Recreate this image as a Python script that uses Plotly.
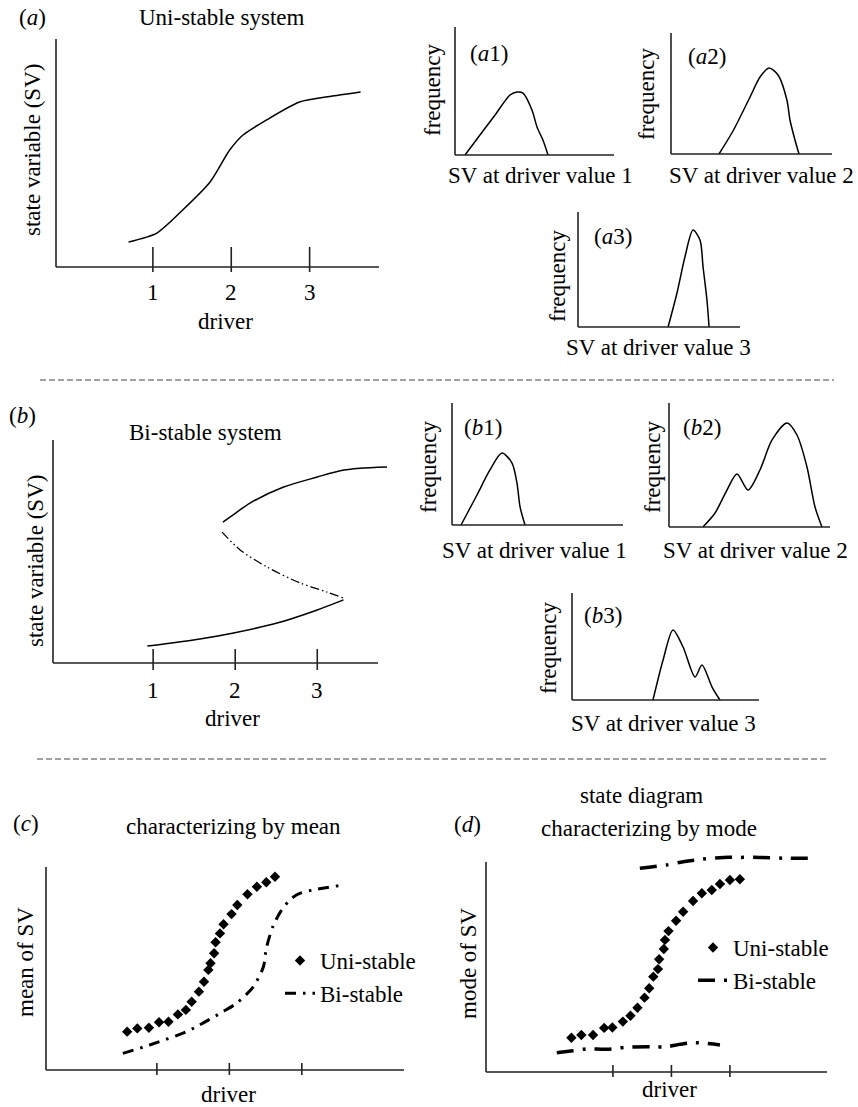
import plotly.graph_objects as go

W, H = 858, 1107
FONT = "Liberation Serif"
FS = 23

# ---------------- data ----------------
tick_vals = [1, 2, 3]
tick_labels = ["1", "2", "3"]

# (a) uni-stable response curve
a_x = [0.69, 1.05, 1.38, 1.73, 1.98, 2.15, 2.45, 2.87, 3.29, 3.65]
a_y = [1.10, 1.49, 2.50, 3.73, 5.13, 5.79, 6.45, 7.24, 7.50, 7.68]

# (b) bi-stable system branches
b_upper_x = [1.85, 1.94, 2.18, 2.59, 3.00, 3.28, 3.52, 3.85]
b_upper_y = [6.32, 6.55, 7.17, 7.89, 8.34, 8.62, 8.73, 8.79]
b_unst_x = [1.84, 2.06, 2.39, 2.79, 3.12, 3.32]
b_unst_y = [5.87, 5.07, 4.30, 3.59, 3.18, 2.91]
b_lower_x = [0.93, 1.57, 1.98, 2.51, 3.00, 3.32]
b_lower_y = [0.76, 1.08, 1.35, 1.79, 2.38, 2.83]

# frequency distributions (SV %, frequency %)
a1_x = [6.3, 15.7, 25.2, 34.6, 39.0, 42.8, 48.4, 51.6, 55.3, 58.5]
a1_y = [0, 15.6, 31.3, 46.9, 49.2, 48.4, 35.2, 21.9, 11.7, 0]
a2_x = [29.8, 38.5, 49.1, 55.3, 60.9, 66.5, 72.0, 73.9, 77.0, 79.5]
a2_y = [0, 19.0, 47.1, 63.6, 71.1, 65.3, 44.6, 28.1, 11.6, 0]
a3_x = [55.6, 61.1, 66.0, 71.0, 75.3, 77.2, 79.6, 80.9]
a3_y = [0, 29.6, 60.9, 84.3, 75.7, 52.2, 23.5, 0]
b1_x = [5.3, 14.6, 22.2, 29.2, 35.1, 38.0, 39.8, 42.7]
b1_y = [0, 24.6, 45.1, 59.0, 50.8, 34.4, 14.8, 0]
b2_x = [21.1, 28.6, 36.0, 42.2, 49.1, 56.5, 64.0, 73.3, 79.5, 85.7, 90.7, 95.0]
b2_y = [0, 11.3, 29.8, 42.7, 29.8, 46.0, 70.2, 83.9, 74.2, 48.4, 16.1, 0]
b3_x = [43.3, 48.7, 54.0, 59.4, 65.8, 69.5, 74.9, 79.1]
b3_y = [0, 37.4, 65.4, 49.5, 21.5, 32.7, 12.1, 0]

# (c) characterizing by mean
c_uni_x = [0.59, 0.73, 0.89, 1.03, 1.16, 1.29, 1.40, 1.48, 1.58, 1.65, 1.71,
           1.74, 1.79, 1.81, 1.87, 1.92, 2.03, 2.11, 2.25, 2.38, 2.51, 2.63]
c_uni_y = [1.89, 2.05, 2.08, 2.35, 2.38, 2.74, 2.96, 3.36, 3.86, 4.35, 4.93,
           5.26, 5.75, 6.29, 6.73, 7.18, 7.68, 8.13, 8.66, 9.03, 9.25, 9.52]
c_bi_x = [0.53, 0.90, 1.41, 1.59, 1.91, 2.10, 2.33, 2.47, 2.51, 2.60, 2.72,
          2.86, 2.97, 3.20, 3.51]
c_bi_y = [0.82, 1.23, 1.89, 2.22, 2.87, 3.29, 4.10, 5.09, 5.99, 7.06, 7.88,
          8.46, 8.70, 8.90, 9.08]

# (d) characterizing by mode
d_uni_x = [0.29, 0.46, 0.66, 0.85, 0.99, 1.17, 1.30, 1.42, 1.54, 1.62, 1.69, 1.77,
           1.79, 1.87, 1.89, 1.95, 2.08, 2.20, 2.37, 2.52, 2.69, 2.83, 3.00, 3.17]
d_uni_y = [1.63, 1.76, 1.76, 2.10, 2.12, 2.40, 2.68, 3.06, 3.54, 3.99, 4.54, 4.90,
           5.37, 5.86, 6.29, 6.71, 7.20, 7.63, 8.14, 8.51, 8.67, 8.95, 9.14, 9.18]
d_bi_up_x = [1.46, 1.92, 2.20, 2.54, 2.89, 3.17, 3.51, 3.91, 4.42]
d_bi_up_y = [9.70, 9.86, 10.01, 10.14, 10.22, 10.22, 10.22, 10.18, 10.18]
d_bi_lo_x = [0.04, 0.32, 0.55, 0.89, 1.23, 1.69, 1.92, 2.15, 2.37, 2.83]
d_bi_lo_y = [0.92, 1.01, 1.10, 1.08, 1.18, 1.20, 1.20, 1.32, 1.40, 1.29]

# ---------------- figure helpers ----------------
fig = go.Figure()
layout_axes = {}
shapes = []
annotations = []
counter = [0]


def panel(box, xlim, ylim, pad=12):
    """box = pixel box of the drawn axis lines (L, R, T, B)."""
    counter[0] += 1
    n = counter[0]
    L, R, T, B = box
    x0, x1 = xlim
    y0, y1 = ylim
    sx = (x1 - x0) / (R - L)
    sy = (y1 - y0) / (B - T)
    xname = "xaxis" if n == 1 else f"xaxis{n}"
    yname = "yaxis" if n == 1 else f"yaxis{n}"
    xref = "x" if n == 1 else f"x{n}"
    yref = "y" if n == 1 else f"y{n}"
    layout_axes[xname] = dict(domain=[(L - pad) / W, (R + pad) / W],
                              range=[x0 - pad * sx, x1 + pad * sx],
                              visible=False, anchor=yref, fixedrange=True)
    layout_axes[yname] = dict(domain=[1 - (B + pad) / H, 1 - (T - pad) / H],
                              range=[y0 - pad * sy, y1 + pad * sy],
                              visible=False, anchor=xref, fixedrange=True)
    # axis lines
    shapes.append(dict(type="line", xref=xref, yref=yref, x0=x0, x1=x1, y0=y0, y1=y0,
                       line=dict(color="#222", width=1.6), layer="above"))
    shapes.append(dict(type="line", xref=xref, yref=yref, x0=x0, x1=x0, y0=y0, y1=y1,
                       line=dict(color="#222", width=1.6), layer="above"))
    return dict(xref=xref, yref=yref, sx=sx, sy=sy, y0=y0)


def ticks(p, vals, up, down, labels=None, label_y=None):
    for i, v in enumerate(vals):
        shapes.append(dict(type="line", xref=p["xref"], yref=p["yref"], x0=v, x1=v,
                           y0=p["y0"] - down * p["sy"], y1=p["y0"] + up * p["sy"],
                           line=dict(color="#222", width=1.6)))
        if labels is not None:
            annotations.append(dict(text=labels[i], x=v, xref=p["xref"],
                                    y=1 - label_y / H, yref="paper",
                                    showarrow=False, xanchor="center", yanchor="middle",
                                    font=dict(family=FONT, size=FS, color="black")))


def text(t, x, y, angle=0, size=FS, xanchor="center"):
    annotations.append(dict(text=t, x=x / W, y=1 - y / H, xref="paper", yref="paper",
                            showarrow=False, xanchor=xanchor, yanchor="middle",
                            textangle=angle,
                            font=dict(family=FONT, size=size, color="black")))


def curve(p, xs, ys, width=1.5, dash="solid", smoothing=0.8, **kw):
    fig.add_trace(go.Scatter(x=xs, y=ys, mode="lines", xaxis=p["xref"], yaxis=p["yref"],
                             line=dict(color="black", width=width, dash=dash,
                                       shape="spline", smoothing=smoothing),
                             showlegend=False, hoverinfo="skip", **kw))


# ---------------- (a) ----------------
pa = panel((56, 379, 39, 267), (-0.236, 3.885), (0, 10))
curve(pa, a_x, a_y, smoothing=0.7)
ticks(pa, tick_vals, 20, 5, tick_labels, 292)
text("(<i>a</i>)", 32, 18)
text("Uni-stable system", 222, 18)
text("state variable (SV)", 33, 150, angle=-90)
text("driver", 225, 322)

small = [
    ((455, 614, 27, 155), a1_x, a1_y, "(<i>a</i>1)", (489, 53), (432, 90), "SV at driver value 1", (540, 175)),
    ((671, 832, 33, 154), a2_x, a2_y, "(<i>a</i>2)", (707, 57), (647, 94), "SV at driver value 2", (761, 175)),
    ((578, 740, 212, 327), a3_x, a3_y, "(<i>a</i>3)", (613, 237), (557, 276), "SV at driver value 3", (658, 348)),
    ((452, 623, 403, 525), b1_x, b1_y, "(<i>b</i>1)", (483, 427), (428, 467), "SV at driver value 1", (534, 550)),
    ((669, 830, 403, 527), b2_x, b2_y, "(<i>b</i>2)", (702, 427), (652, 467), "SV at driver value 2", (755, 550)),
    ((572, 759, 593, 700), b3_x, b3_y, "(<i>b</i>3)", (603, 615), (548, 648), "SV at driver value 3", (663, 723)),
]
for box, xs, ys, lab, lpos, fpos, xl, xpos in small:
    p = panel(box, (0, 100), (0, 100), pad=8)
    curve(p, xs, ys)
    text(lab, *lpos)
    text("frequency", *fpos, angle=-90)
    text(xl, *xpos)

# ---------------- (b) ----------------
pb = panel((53, 378, 440, 663), (-0.22, 3.74), (0, 10), pad=14)
curve(pb, b_upper_x, b_upper_y)
curve(pb, b_unst_x, b_unst_y, width=1.3, dash="9px,3px,1.5px,3px,1.5px,3px")
curve(pb, b_lower_x, b_lower_y)
ticks(pb, tick_vals, 14, 7, tick_labels, 690)
text("(<i>b</i>)", 22, 415)
text("Bi-stable system", 205, 433)
text("state variable (SV)", 35, 561, angle=-90)
text("driver", 232, 718)

# ---------------- (c) ----------------
pc = panel((46, 404, 867, 1070), (-0.53, 4.41), (0, 10))
fig.add_trace(go.Scatter(x=c_uni_x, y=c_uni_y, mode="markers", name="Uni-stable",
                         xaxis=pc["xref"], yaxis=pc["yref"], legend="legend",
                         marker=dict(symbol="diamond", size=8, color="black"),
                         hoverinfo="skip"))
fig.add_trace(go.Scatter(x=c_bi_x, y=c_bi_y, mode="lines", name="Bi-stable",
                         xaxis=pc["xref"], yaxis=pc["yref"], legend="legend",
                         line=dict(color="black", width=3, dash="11px,7px,2.5px,7px",
                                   shape="spline", smoothing=0.8),
                         hoverinfo="skip"))
ticks(pc, tick_vals, 7, 5)
text("(<i>c</i>)", 26, 823)
text("characterizing by mean", 233, 826)
text("mean of SV", 25, 962, angle=-90)
text("driver", 228, 1094)

# ---------------- (d) ----------------
pd_ = panel((486, 827, 862, 1072), (-1.17, 4.66), (0, 10))
fig.add_trace(go.Scatter(x=d_uni_x, y=d_uni_y, mode="markers", name="Uni-stable",
                         xaxis=pd_["xref"], yaxis=pd_["yref"], legend="legend2",
                         marker=dict(symbol="diamond", size=8, color="black"),
                         hoverinfo="skip"))
fig.add_trace(go.Scatter(x=d_bi_up_x, y=d_bi_up_y, mode="lines", name="Bi-stable",
                         xaxis=pd_["xref"], yaxis=pd_["yref"], legend="legend2",
                         legendgroup="dbi",
                         line=dict(color="black", width=3.5, dash="17px,9px,3px,9px",
                                   shape="spline", smoothing=0.8),
                         hoverinfo="skip"))
fig.add_trace(go.Scatter(x=d_bi_lo_x, y=d_bi_lo_y, mode="lines", name="Bi-stable",
                         xaxis=pd_["xref"], yaxis=pd_["yref"], legend="legend2",
                         legendgroup="dbi", showlegend=False,
                         line=dict(color="black", width=3.5, dash="17px,9px,3px,9px",
                                   shape="spline", smoothing=0.8),
                         hoverinfo="skip"))
ticks(pd_, tick_vals, 7, 5)
text("(<i>d</i>)", 467, 825)
text("state diagram", 641, 795)
text("characterizing by mode", 649, 828)
text("mode of SV", 468, 963, angle=-90)
text("driver", 669, 1089)

# ---------------- separators ----------------
for (x0, x1, y) in [(40, 834, 380), (37, 828, 759)]:
    shapes.append(dict(type="line", xref="paper", yref="paper",
                       x0=x0 / W, x1=x1 / W, y0=1 - y / H, y1=1 - y / H,
                       line=dict(color="#444", width=1, dash="6px,3px")))

legend_common = dict(font=dict(family=FONT, size=FS, color="black"),
                     bgcolor="rgba(0,0,0,0)", borderwidth=0, xanchor="left",
                     yanchor="top", tracegroupgap=0, itemwidth=30)

fig.update_layout(
    width=W, height=H, margin=dict(l=0, r=0, t=0, b=0),
    paper_bgcolor="white", plot_bgcolor="white",
    showlegend=True,
    legend=dict(x=280 / W, y=1 - 939 / H, **legend_common),
    legend2=dict(x=693 / W, y=1 - 926 / H, **legend_common),
    shapes=shapes, annotations=annotations,
    font=dict(family=FONT, size=FS, color="black"),
    **layout_axes,
)

fig.write_html(
    "out.html",
    config={"displayModeBar": False, "staticPlot": True},
    post_script="document.body.style.margin='0';document.body.style.overflow='hidden';",
)
